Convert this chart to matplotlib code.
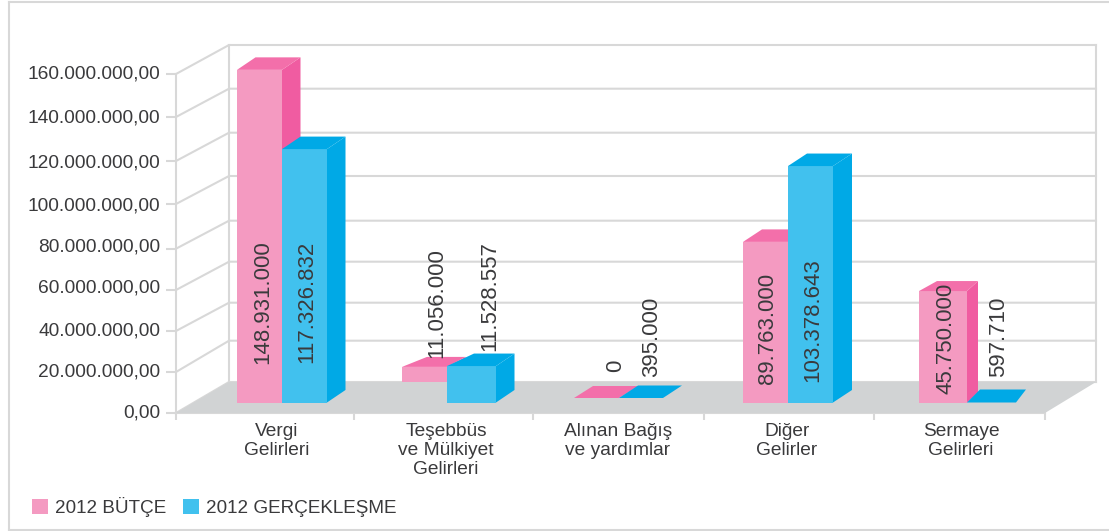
import matplotlib
matplotlib.use("Agg")
from matplotlib import pyplot as plt
from matplotlib.lines import Line2D
from matplotlib.patches import Patch

# what the picture shows
categories = ["Vergi\nGelirleri", "Teşebbüs\nve Mülkiyet\nGelirleri", "Alınan Bağış\nve yardımlar", "Diğer\nGelirler", "Sermaye\nGelirleri"]
butce_drawn = [157.0e6, 16.8e6, 0, 75.8e6, 52.6e6]       # heights as drawn, they differ from the printed numbers
gercek_drawn = [119.6e6, 17.2e6, 0, 111.6e6, 0]
butce_text = ["148.931.000", "11.056.000", "0", "89.763.000", "45.750.000"]
gercek_text = ["117.326.832", "11.528.557", "395.000", "103.378.643", "597.710"]
y_labels = ["0,00", "20.000.000,00", "40.000.000,00", "60.000.000,00", "80.000.000,00",
            "100.000.000,00", "120.000.000,00", "140.000.000,00", "160.000.000,00"]
series_names = ["2012 BÜTÇE", "2012 GERÇEKLEŞME"]

# layout, pixels of the 1109x531 picture
W, H = 1109, 531
X0, X1, Y0, Y1 = 176, 1045, 413, 74
WALL_L, WALL_R = 229, 1096
cat_px = (X1 - X0) / 5
val_px = (Y0 - Y1) / 160e6
# the source axis is not quite even, so the rows are measured one by one
front_rows = [413, 372, 331, 290, 248.7, 204, 161, 117, 74]
back_rows = [382, 340.7, 302.7, 261.7, 220.7, 176, 132.7, 88.7, 45]
label_rows = [411, 370, 329, 286, 245, 204, 161, 116, 72]
x_tick_px = [176, 354, 533, 704, 874, 1045]
pink_left = [237, 402, 574, 743, 919]
pink_right = [282, 447, 619, 788, 967]
blue_right = [327, 496, 663, 833, 1016]
base_px = [402.5, 402.5, 398, 402.5, 402.5]
pink_depth = [(18.5, 18.5, 12.5), (25, 18.5, 10), (19, 19, 12), (19, 19, 12.5), (18, 11, 10)]
blue_depth = [(18.5, 18.5, 12.5), (27, 18.5, 12.5), (19, 19, 12.5), (19, 19, 12.5), (13, 10, 13)]
pink_text_px = [(263, 364), (437, 358), (616, 372), (768, 384), (946, 394)]
blue_text_px = [(307, 363), (490, 351), (652, 377), (813, 382), (999, 377)]
label_centers = [277, 446, 618, 787, 961]

PINK, PINK_SIDE, PINK_TOP = "#F49AC1", "#F05CA1", "#F36FAA"
BLUE, BLUE_SIDE, BLUE_TOP = "#41C1EE", "#00A9E6", "#00A9E6"
GRID = "#D8D8D8"
FLOOR = "#D1D3D4"
TEXT = "#3A3A3C"
LW = 1.5


def xd(px):
    return (px - X0) / cat_px


def yd(py):
    return (Y0 - py) / val_px


plt.rcParams["font.family"] = ["Liberation Sans", "DejaVu Sans"]
fig = plt.figure(figsize=(W / 100, H / 100), dpi=100)
ax = fig.add_axes([X0 / W, 1 - Y0 / H, (X1 - X0) / W, (Y0 - Y1) / H])

# outer frame, open on the right
for xs, ys in [((9, 9), (2, 530)), ((9, W), (2, 2)), ((9, W), (530, 530))]:
    fig.add_artist(Line2D([x / W for x in xs], [1 - y / H for y in ys], color=GRID, lw=LW))

# back wall and floor
for fr, br in zip(front_rows, back_rows):
    ax.plot([0, xd(WALL_L), xd(WALL_R)], [yd(fr), yd(br), yd(br)], color=GRID, lw=LW, clip_on=False, zorder=1)
for px in (WALL_L, WALL_R):
    ax.plot([xd(px), xd(px)], [yd(back_rows[0]), yd(back_rows[-1])], color=GRID, lw=LW, clip_on=False, zorder=1)
ax.fill([0, 5, xd(WALL_R), xd(WALL_L)], [0, 0, yd(back_rows[0]), yd(back_rows[0])],
        color=FLOOR, lw=0, clip_on=False, zorder=3)


def draw_bar(left, right, base, height, depth, colors, z):
    front, side, top = colors
    dl, dr, dy = depth
    x0, x1 = xd(left), xd(right)
    y0 = yd(base)
    y1 = y0 + height
    dy_v = dy / val_px
    ax.bar(x0, height, width=x1 - x0, bottom=y0, align="edge", color=front, lw=0, clip_on=False, zorder=z)
    if height > 0:
        ax.fill([x1, x1 + dr / cat_px, x1 + dr / cat_px, x1], [y0, y0 + dy_v, y1 + dy_v, y1],
                color=side, lw=0, clip_on=False, zorder=z)
    ax.fill([x0, x1, x1 + dr / cat_px, x0 + dl / cat_px], [y1, y1, y1 + dy_v, y1 + dy_v],
            color=top, lw=0, clip_on=False, zorder=z)


for i in range(len(categories)):
    # the pink bar of the second group sinks behind the floor
    z = 2 if i == 1 else 4
    draw_bar(pink_left[i], pink_right[i], base_px[i], butce_drawn[i], pink_depth[i], (PINK, PINK_SIDE, PINK_TOP), z)
    draw_bar(pink_right[i], blue_right[i], base_px[i], gercek_drawn[i], blue_depth[i], (BLUE, BLUE_SIDE, BLUE_TOP), 5)

for texts, places in [(butce_text, pink_text_px), (gercek_text, blue_text_px)]:
    for t, (px, py) in zip(texts, places):
        ax.text(xd(px), yd(py), t, rotation=90, ha="center", va="bottom", fontsize=16, color=TEXT, zorder=6, clip_on=False)

ax.set_xlim(0, 5)
ax.set_ylim(0, 160e6)
ax.set_facecolor("none")
for s in ("top", "right"):
    ax.spines[s].set_visible(False)
for s in ("left", "bottom"):
    ax.spines[s].set_color(GRID)
    ax.spines[s].set_linewidth(LW)

ax.set_yticks([yd(r) for r in front_rows], [""] * len(front_rows))
ax.tick_params(axis="y", length=7.2, width=LW, color=GRID)
for t, r in zip(y_labels, label_rows):
    ax.text(xd(160.5), yd(r), t, ha="right", va="center_baseline", fontsize=13.8, color=TEXT, clip_on=False)

ax.set_xticks([xd(p) for p in x_tick_px], [""] * len(x_tick_px))
ax.tick_params(axis="x", which="major", length=5, width=LW, color=GRID)
ax.set_xticks([xd(c) for c in label_centers], categories, minor=True, fontsize=13.8, color=TEXT, linespacing=1.15)
ax.tick_params(axis="x", which="minor", length=0, pad=7)

handles = [Patch(color=PINK, lw=0), Patch(color=BLUE, lw=0)]
fig.legend(handles, series_names, loc="lower left", bbox_to_anchor=(32 / W, 1 - 517 / H), ncols=2, frameon=False,
           fontsize=13.6, labelcolor=TEXT, handlelength=0.85, handleheight=0.85, handletextpad=0.38,
           columnspacing=0.85, borderpad=0, borderaxespad=0)

fig.savefig("out.png", dpi=100)
